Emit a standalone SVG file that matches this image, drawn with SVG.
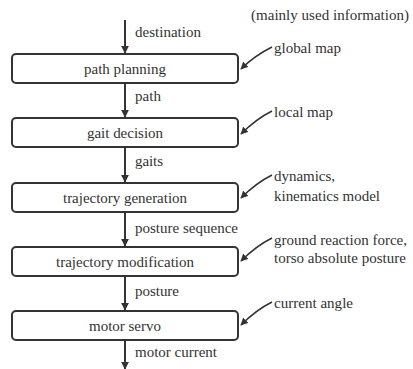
<svg xmlns="http://www.w3.org/2000/svg" width="413" height="369" viewBox="0 0 413 369">
<style>
.box{fill:#fff;stroke:#333;stroke-width:2}
text{font-family:'Liberation Serif','Times New Roman',serif;font-size:15px;fill:#333}
.m{text-anchor:middle}
.ln{stroke:#333;stroke-width:2;fill:none}
.sl{stroke:#333;stroke-width:1.5;fill:none}
</style>
<defs>
<marker id="ah" viewBox="0 0 10 10" refX="9" refY="5" markerWidth="4" markerHeight="4" orient="auto" markerUnits="strokeWidth">
<path d="M0,0 L10,5 L0,10 z" fill="#333"/>
</marker>
<marker id="sh" viewBox="0 0 10 10" refX="9" refY="5" markerWidth="5" markerHeight="5" orient="auto" markerUnits="strokeWidth">
<path d="M0,0 L10,5 L0,10 z" fill="#333"/>
</marker>
</defs>
<g id="connectors">
<line class="ln" x1="125" y1="20" x2="125" y2="53" marker-end="url(#ah)"/>
<line class="ln" x1="125" y1="83" x2="125" y2="117" marker-end="url(#ah)"/>
<line class="ln" x1="125" y1="148" x2="125" y2="182" marker-end="url(#ah)"/>
<line class="ln" x1="125" y1="212" x2="125" y2="246" marker-end="url(#ah)"/>
<line class="ln" x1="125" y1="276" x2="125" y2="310" marker-end="url(#ah)"/>
<line class="ln" x1="125" y1="340" x2="125" y2="369" marker-end="url(#ah)"/>
<path class="sl" d="M272,47 C262,52 250,60 241,69" marker-end="url(#sh)"/>
<path class="sl" d="M272,111 C262,116 250,125 241,134" marker-end="url(#sh)"/>
<path class="sl" d="M272,175 C262,180 250,189 241,198" marker-end="url(#sh)"/>
<path class="sl" d="M272,238 C262,243 250,252 241,261" marker-end="url(#sh)"/>
<path class="sl" d="M272,302 C262,307 250,316 241,325" marker-end="url(#sh)"/>
</g>
<g id="path-planning">
<rect class="box" x="12" y="54" width="226" height="29" rx="4"/>
<text class="m" x="125" y="74" textLength="82" lengthAdjust="spacing">path planning</text>
</g>
<g id="gait-decision">
<rect class="box" x="12" y="118" width="226" height="29" rx="4"/>
<text class="m" x="125" y="138" textLength="76" lengthAdjust="spacing">gait decision</text>
</g>
<g id="trajectory-generation">
<rect class="box" x="12" y="183" width="226" height="29" rx="4"/>
<text class="m" x="125" y="203" textLength="124" lengthAdjust="spacing">trajectory generation</text>
</g>
<g id="trajectory-modification">
<rect class="box" x="12" y="247" width="226" height="29" rx="4"/>
<text class="m" x="125" y="267" textLength="138" lengthAdjust="spacing">trajectory modification</text>
</g>
<g id="motor-servo">
<rect class="box" x="12" y="311" width="226" height="29" rx="4"/>
<text class="m" x="125" y="331" textLength="72" lengthAdjust="spacing">motor servo</text>
</g>
<g id="labels">
<text x="135" y="37" textLength="66" lengthAdjust="spacing">destination</text>
<text x="135" y="101" textLength="26" lengthAdjust="spacing">path</text>
<text x="135" y="166" textLength="28" lengthAdjust="spacing">gaits</text>
<text x="135" y="233" textLength="103" lengthAdjust="spacing">posture sequence</text>
<text x="135" y="296" textLength="44" lengthAdjust="spacing">posture</text>
<text x="135" y="357" textLength="82" lengthAdjust="spacing">motor current</text>
</g>
<g id="info">
<text x="251" y="20" textLength="158" lengthAdjust="spacing">(mainly used information)</text>
<text x="274" y="53" textLength="67" lengthAdjust="spacing">global map</text>
<text x="274" y="117" textLength="59" lengthAdjust="spacing">local map</text>
<text x="274" y="181" textLength="61" lengthAdjust="spacing">dynamics,</text>
<text x="274" y="201" textLength="106" lengthAdjust="spacing">kinematics model</text>
<text x="274" y="245" textLength="133" lengthAdjust="spacing">ground reaction force,</text>
<text x="274" y="263" textLength="132" lengthAdjust="spacing">torso absolute posture</text>
<text x="274" y="308" textLength="79" lengthAdjust="spacing">current angle</text>
</g>
</svg>
